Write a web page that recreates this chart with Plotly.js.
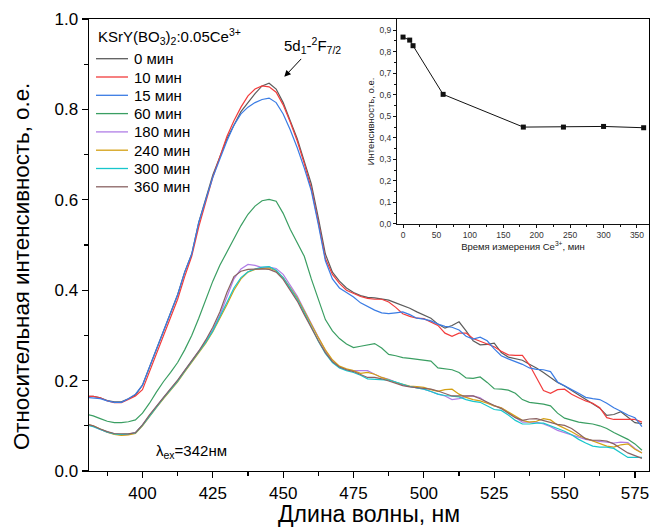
<!DOCTYPE html>
<html><head><meta charset="utf-8">
<script src="https://cdn.plot.ly/plotly-3.0.1.min.js"></script>
<style>html,body{margin:0;padding:0;background:#fff}#chart{width:653px;height:527px}</style>
</head><body><div id="chart"></div>
<script>
const wavelength = [
380,382.5,385,387.5,390,392.5,395,397.5,
400,402.5,405,407.5,410,412.5,415,417.5,
420,422.5,425,427.5,430,432.5,435,437.5,
440,442.5,445,447.5,450,452.5,455,457.5,
460,462.5,465,467.5,470,472.5,475,477.5,
480,482.5,485,487.5,490,492.5,495,497.5,
500,502.5,505,507.5,510,512.5,515,517.5,
520,522.5,525,527.5,530,532.5,535,537.5,
540,542.5,545,547.5,550,552.5,555,557.5,
560,562.5,565,567.5,570,572.5,575,577.5];

const i0 = [
0.165,0.165,0.162,0.156,0.153,0.153,0.160,0.168,
0.190,0.230,0.270,0.310,0.350,0.390,0.440,0.480,
0.550,0.600,0.655,0.695,0.735,0.765,0.795,0.815,
0.835,0.852,0.858,0.845,0.815,0.775,0.735,0.685,
0.635,0.560,0.480,0.440,0.420,0.405,0.395,0.388,
0.384,0.383,0.381,0.378,0.372,0.366,0.360,0.352,
0.345,0.338,0.325,0.316,0.322,0.330,0.310,0.288,
0.279,0.280,0.283,0.262,0.252,0.249,0.245,0.236,
0.228,0.218,0.207,0.196,0.188,0.178,0.168,0.158,
0.148,0.139,0.123,0.125,0.131,0.118,0.107,0.105];

const i10 = [
0.165,0.165,0.162,0.155,0.151,0.151,0.158,0.166,
0.180,0.220,0.260,0.300,0.340,0.380,0.430,0.475,
0.540,0.595,0.650,0.695,0.740,0.775,0.805,0.830,
0.845,0.852,0.850,0.838,0.810,0.772,0.730,0.680,
0.625,0.550,0.470,0.435,0.415,0.400,0.393,0.386,
0.382,0.380,0.380,0.374,0.362,0.348,0.342,0.338,
0.337,0.330,0.322,0.305,0.298,0.305,0.305,0.293,
0.287,0.280,0.275,0.265,0.257,0.256,0.256,0.235,
0.205,0.178,0.172,0.180,0.181,0.170,0.162,0.155,
0.150,0.140,0.118,0.114,0.114,0.114,0.114,0.108];

const i15 = [
0.163,0.162,0.160,0.155,0.152,0.152,0.160,0.170,
0.190,0.230,0.270,0.310,0.350,0.390,0.440,0.480,
0.550,0.600,0.650,0.690,0.730,0.765,0.790,0.805,
0.815,0.822,0.825,0.815,0.790,0.755,0.715,0.670,
0.620,0.545,0.465,0.425,0.405,0.395,0.385,0.372,
0.364,0.356,0.350,0.348,0.350,0.352,0.346,0.338,
0.336,0.332,0.325,0.320,0.318,0.312,0.298,0.292,
0.296,0.288,0.270,0.255,0.248,0.242,0.236,0.228,
0.225,0.224,0.220,0.197,0.188,0.180,0.172,0.163,
0.160,0.158,0.150,0.140,0.132,0.124,0.118,0.098];

const i60 = [
0.126,0.122,0.116,0.110,0.107,0.107,0.109,0.113,
0.128,0.150,0.175,0.198,0.218,0.240,0.268,0.300,
0.338,0.378,0.420,0.455,0.485,0.515,0.543,0.568,
0.586,0.598,0.601,0.597,0.570,0.535,0.505,0.475,
0.425,0.380,0.335,0.310,0.293,0.281,0.273,0.276,
0.279,0.282,0.272,0.258,0.255,0.251,0.249,0.247,
0.246,0.243,0.228,0.226,0.224,0.218,0.206,0.205,
0.208,0.196,0.182,0.181,0.179,0.172,0.158,0.152,
0.150,0.148,0.144,0.128,0.117,0.112,0.108,0.106,
0.104,0.100,0.094,0.085,0.078,0.070,0.060,0.046];

const i180 = [
0.103,0.099,0.092,0.086,0.082,0.080,0.081,0.085,
0.102,0.123,0.143,0.163,0.181,0.200,0.222,0.244,
0.264,0.287,0.313,0.345,0.385,0.425,0.447,0.457,
0.455,0.450,0.451,0.448,0.435,0.412,0.387,0.356,
0.325,0.294,0.266,0.243,0.229,0.224,0.222,0.222,
0.222,0.214,0.207,0.203,0.197,0.190,0.187,0.184,
0.181,0.176,0.170,0.166,0.158,0.160,0.165,0.166,
0.162,0.151,0.144,0.140,0.129,0.119,0.108,0.108,
0.108,0.104,0.098,0.090,0.085,0.080,0.074,0.070,
0.067,0.065,0.063,0.062,0.064,0.063,0.050,0.040];

const i240 = [
0.103,0.100,0.093,0.086,0.081,0.079,0.080,0.083,
0.100,0.121,0.141,0.160,0.178,0.197,0.219,0.240,
0.260,0.283,0.308,0.337,0.368,0.400,0.425,0.440,
0.446,0.448,0.449,0.443,0.428,0.406,0.383,0.354,
0.324,0.295,0.268,0.246,0.232,0.226,0.222,0.216,
0.218,0.214,0.207,0.201,0.196,0.192,0.188,0.187,
0.185,0.180,0.176,0.180,0.181,0.170,0.163,0.158,
0.155,0.150,0.144,0.140,0.131,0.122,0.112,0.108,
0.110,0.116,0.113,0.102,0.095,0.087,0.078,0.072,
0.066,0.060,0.055,0.053,0.058,0.060,0.048,0.040];

const i300 = [
0.102,0.098,0.092,0.086,0.082,0.081,0.082,0.084,
0.101,0.122,0.142,0.162,0.180,0.199,0.221,0.242,
0.262,0.285,0.310,0.340,0.373,0.405,0.428,0.441,
0.447,0.451,0.452,0.444,0.428,0.404,0.380,0.350,
0.318,0.287,0.260,0.240,0.228,0.222,0.218,0.212,
0.204,0.203,0.203,0.201,0.197,0.192,0.187,0.184,
0.181,0.176,0.170,0.167,0.165,0.164,0.158,0.154,
0.152,0.144,0.136,0.134,0.124,0.112,0.104,0.104,
0.106,0.106,0.100,0.094,0.088,0.080,0.070,0.062,
0.055,0.053,0.053,0.050,0.040,0.030,0.030,0.030];

const i360 = [
0.104,0.100,0.093,0.087,0.083,0.082,0.082,0.085,
0.102,0.124,0.144,0.164,0.182,0.201,0.223,0.244,
0.265,0.290,0.318,0.352,0.395,0.430,0.442,0.446,
0.447,0.447,0.446,0.440,0.424,0.400,0.376,0.346,
0.316,0.288,0.262,0.242,0.230,0.224,0.220,0.214,
0.207,0.207,0.204,0.199,0.194,0.189,0.186,0.184,
0.183,0.181,0.177,0.172,0.166,0.166,0.166,0.166,
0.160,0.152,0.145,0.138,0.128,0.118,0.112,0.115,
0.116,0.112,0.107,0.103,0.101,0.094,0.083,0.071,
0.068,0.068,0.066,0.060,0.050,0.040,0.034,0.028];

const seriesNames = ['0 мин','10 мин','15 мин','60 мин','180 мин','240 мин','300 мин','360 мин'];
const seriesColors = ['#5c5c5c','#f23c3c','#3a7ce4','#3a9e62','#b07ee6','#d4a014','#18c6cc','#8a6262'];
const seriesValues = [i0,i10,i15,i60,i180,i240,i300,i360];
const legendTitle = 'KSrY(BO<sub>3</sub>)<sub>2</sub>:0.05Ce<sup>3+</sup>';

const insetTime = [0,10,15,60,180,240,300,360];
const insetIntensity = [0.868,0.854,0.828,0.602,0.450,0.450,0.453,0.447];
const insetYTickVals = [0,0.1,0.2,0.3,0.4,0.5,0.6,0.7,0.8,0.9];
const insetYTickText = ['0,0','0,1','0,2','0,3','0,4','0,5','0,6','0,7','0,8','0,9'];

const FONT = 'Liberation Sans, Arial, sans-serif';
const W = 653, H = 527, ML = 89, MR = 4, MT = 19, MB = 56;
const PW = W - ML - MR, PH = H - MT - MB;
const px2x = p => (p - ML) / PW;
const py2y = p => (H - MB - p) / PH;

const traces = seriesValues.map((vals, k) => ({
  type: 'scatter', mode: 'lines', x: wavelength, y: vals, name: seriesNames[k],
  line: {color: seriesColors[k], width: 1.2}, xaxis: 'x', yaxis: 'y', showlegend: false
}));

traces.push({
  type: 'scatter', mode: 'lines+markers', x: insetTime, y: insetIntensity,
  xaxis: 'x2', yaxis: 'y2', showlegend: false,
  line: {color: '#111', width: 1}, marker: {symbol: 'square', size: 5, color: '#111'}
});

// manual legend (layout positions)
const legShapes = [], legAnn = [];
legAnn.push({xref: 'paper', yref: 'paper', x: px2x(96), y: py2y(36.5), xanchor: 'left', yanchor: 'middle',
  text: legendTitle, showarrow: false, font: {family: FONT, size: 15, color: '#000'}});
seriesNames.forEach((n, k) => {
  const yy = py2y(58.7 + 18.3 * k);
  legShapes.push({type: 'line', xref: 'paper', yref: 'paper', x0: px2x(96), x1: px2x(128), y0: yy, y1: yy,
    line: {color: seriesColors[k], width: 1.3}});
  legAnn.push({xref: 'paper', yref: 'paper', x: px2x(132), y: yy, xanchor: 'left', yanchor: 'middle',
    text: n, showarrow: false, font: {family: FONT, size: 15, color: '#000'}});
});

const layout = {
  width: W, height: H,
  margin: {l: ML, r: MR, t: MT, b: MB},
  paper_bgcolor: '#fff', plot_bgcolor: 'rgba(0,0,0,0)',
  font: {family: FONT, color: '#000'},
  showlegend: false,
  xaxis: {
    range: [381, 580], domain: [0, 1], anchor: 'y',
    showline: true, linecolor: '#000', linewidth: 1.4, mirror: true,
    ticks: 'outside', ticklen: 6, tickwidth: 1.2, tickcolor: '#000',
    tickvals: [400,425,450,475,500,525,550,575],
    minor: {ticks: 'outside', ticklen: 4, tickcolor: '#000', tickvals: [387.5,412.5,437.5,462.5,487.5,512.5,537.5,562.5]},
    showgrid: false, zeroline: false,
    tickfont: {family: FONT, size: 17, color: '#000'},
    title: {text: 'Длина волны, нм', font: {family: FONT, size: 23, color: '#000'}, standoff: 0}
  },
  yaxis: {
    range: [0, 1], domain: [0, 1], anchor: 'x',
    showline: true, linecolor: '#000', linewidth: 1.4, mirror: true,
    ticks: 'outside', ticklen: 6, tickwidth: 1.2, tickcolor: '#000',
    tickvals: [0,0.2,0.4,0.6,0.8,1.0], ticktext: ['0.0','0.2','0.4','0.6','0.8','1.0'],
    minor: {ticks: 'outside', ticklen: 4, tickcolor: '#000', tickvals: [0.1,0.3,0.5,0.7,0.9]},
    showgrid: false, zeroline: false,
    tickfont: {family: FONT, size: 17, color: '#000'}
  },
  xaxis2: {
    range: [-9, 368], domain: [0.55, 1], anchor: 'y2',
    showline: true, linecolor: '#111', linewidth: 1, mirror: false,
    ticks: 'outside', ticklen: 3, tickwidth: 1, tickcolor: '#111',
    tickvals: [0,50,100,150,200,250,300,350],
    minor: {ticks: 'outside', ticklen: 2, tickcolor: '#111', tickvals: [25,75,125,175,225,275,325]},
    showgrid: false, zeroline: false,
    tickfont: {family: FONT, size: 8.5, color: '#333'},
    title: {text: 'Время измерения Ce<sup>3+</sup>, мин', font: {family: FONT, size: 9.5, color: '#222'}, standoff: 2}
  },
  yaxis2: {
    range: [0, 0.952], domain: [0.5465, 1], anchor: 'x2',
    showline: true, linecolor: '#111', linewidth: 1, mirror: false,
    ticks: 'outside', ticklen: 3, tickwidth: 1, tickcolor: '#111',
    tickvals: insetYTickVals, ticktext: insetYTickText,
    minor: {ticks: 'outside', ticklen: 2, tickcolor: '#111', tickvals: [0.05,0.15,0.25,0.35,0.45,0.55,0.65,0.75,0.85]},
    showgrid: false, zeroline: false,
    tickfont: {family: FONT, size: 8.5, color: '#333'},
    title: {text: 'Интенсивность, о.е.', font: {family: FONT, size: 9.5, color: '#222'}, standoff: 3}
  },
  shapes: legShapes,
  annotations: legAnn.concat([
    {xref: 'paper', yref: 'paper', x: px2x(21), y: py2y(267), textangle: -90,
     xanchor: 'center', yanchor: 'middle', text: 'Относительная интенсивность, о.е.',
     showarrow: false, font: {family: FONT, size: 22.3, color: '#000'}},
    {xref: 'x', yref: 'y', x: 460.5, y: 0.942, text: '5d<sub>1</sub>-<sup>2</sup>F<sub>7/2</sub>',
     showarrow: false, font: {family: FONT, size: 15, color: '#000'}},
    {xref: 'x', yref: 'y', x: 450.4, y: 0.872, axref: 'x', ayref: 'y', ax: 456.9, ay: 0.915,
     text: '', showarrow: true, arrowhead: 2, arrowsize: 1.3, arrowwidth: 1, arrowcolor: '#000'},
    {xref: 'x', yref: 'y', x: 417.6, y: 0.043, text: 'λ<sub>ex</sub>=342нм',
     showarrow: false, font: {family: FONT, size: 15, color: '#000'}}
  ])
};

Plotly.newPlot('chart', traces, layout, {displayModeBar: false, staticPlot: true});
</script></body></html>
